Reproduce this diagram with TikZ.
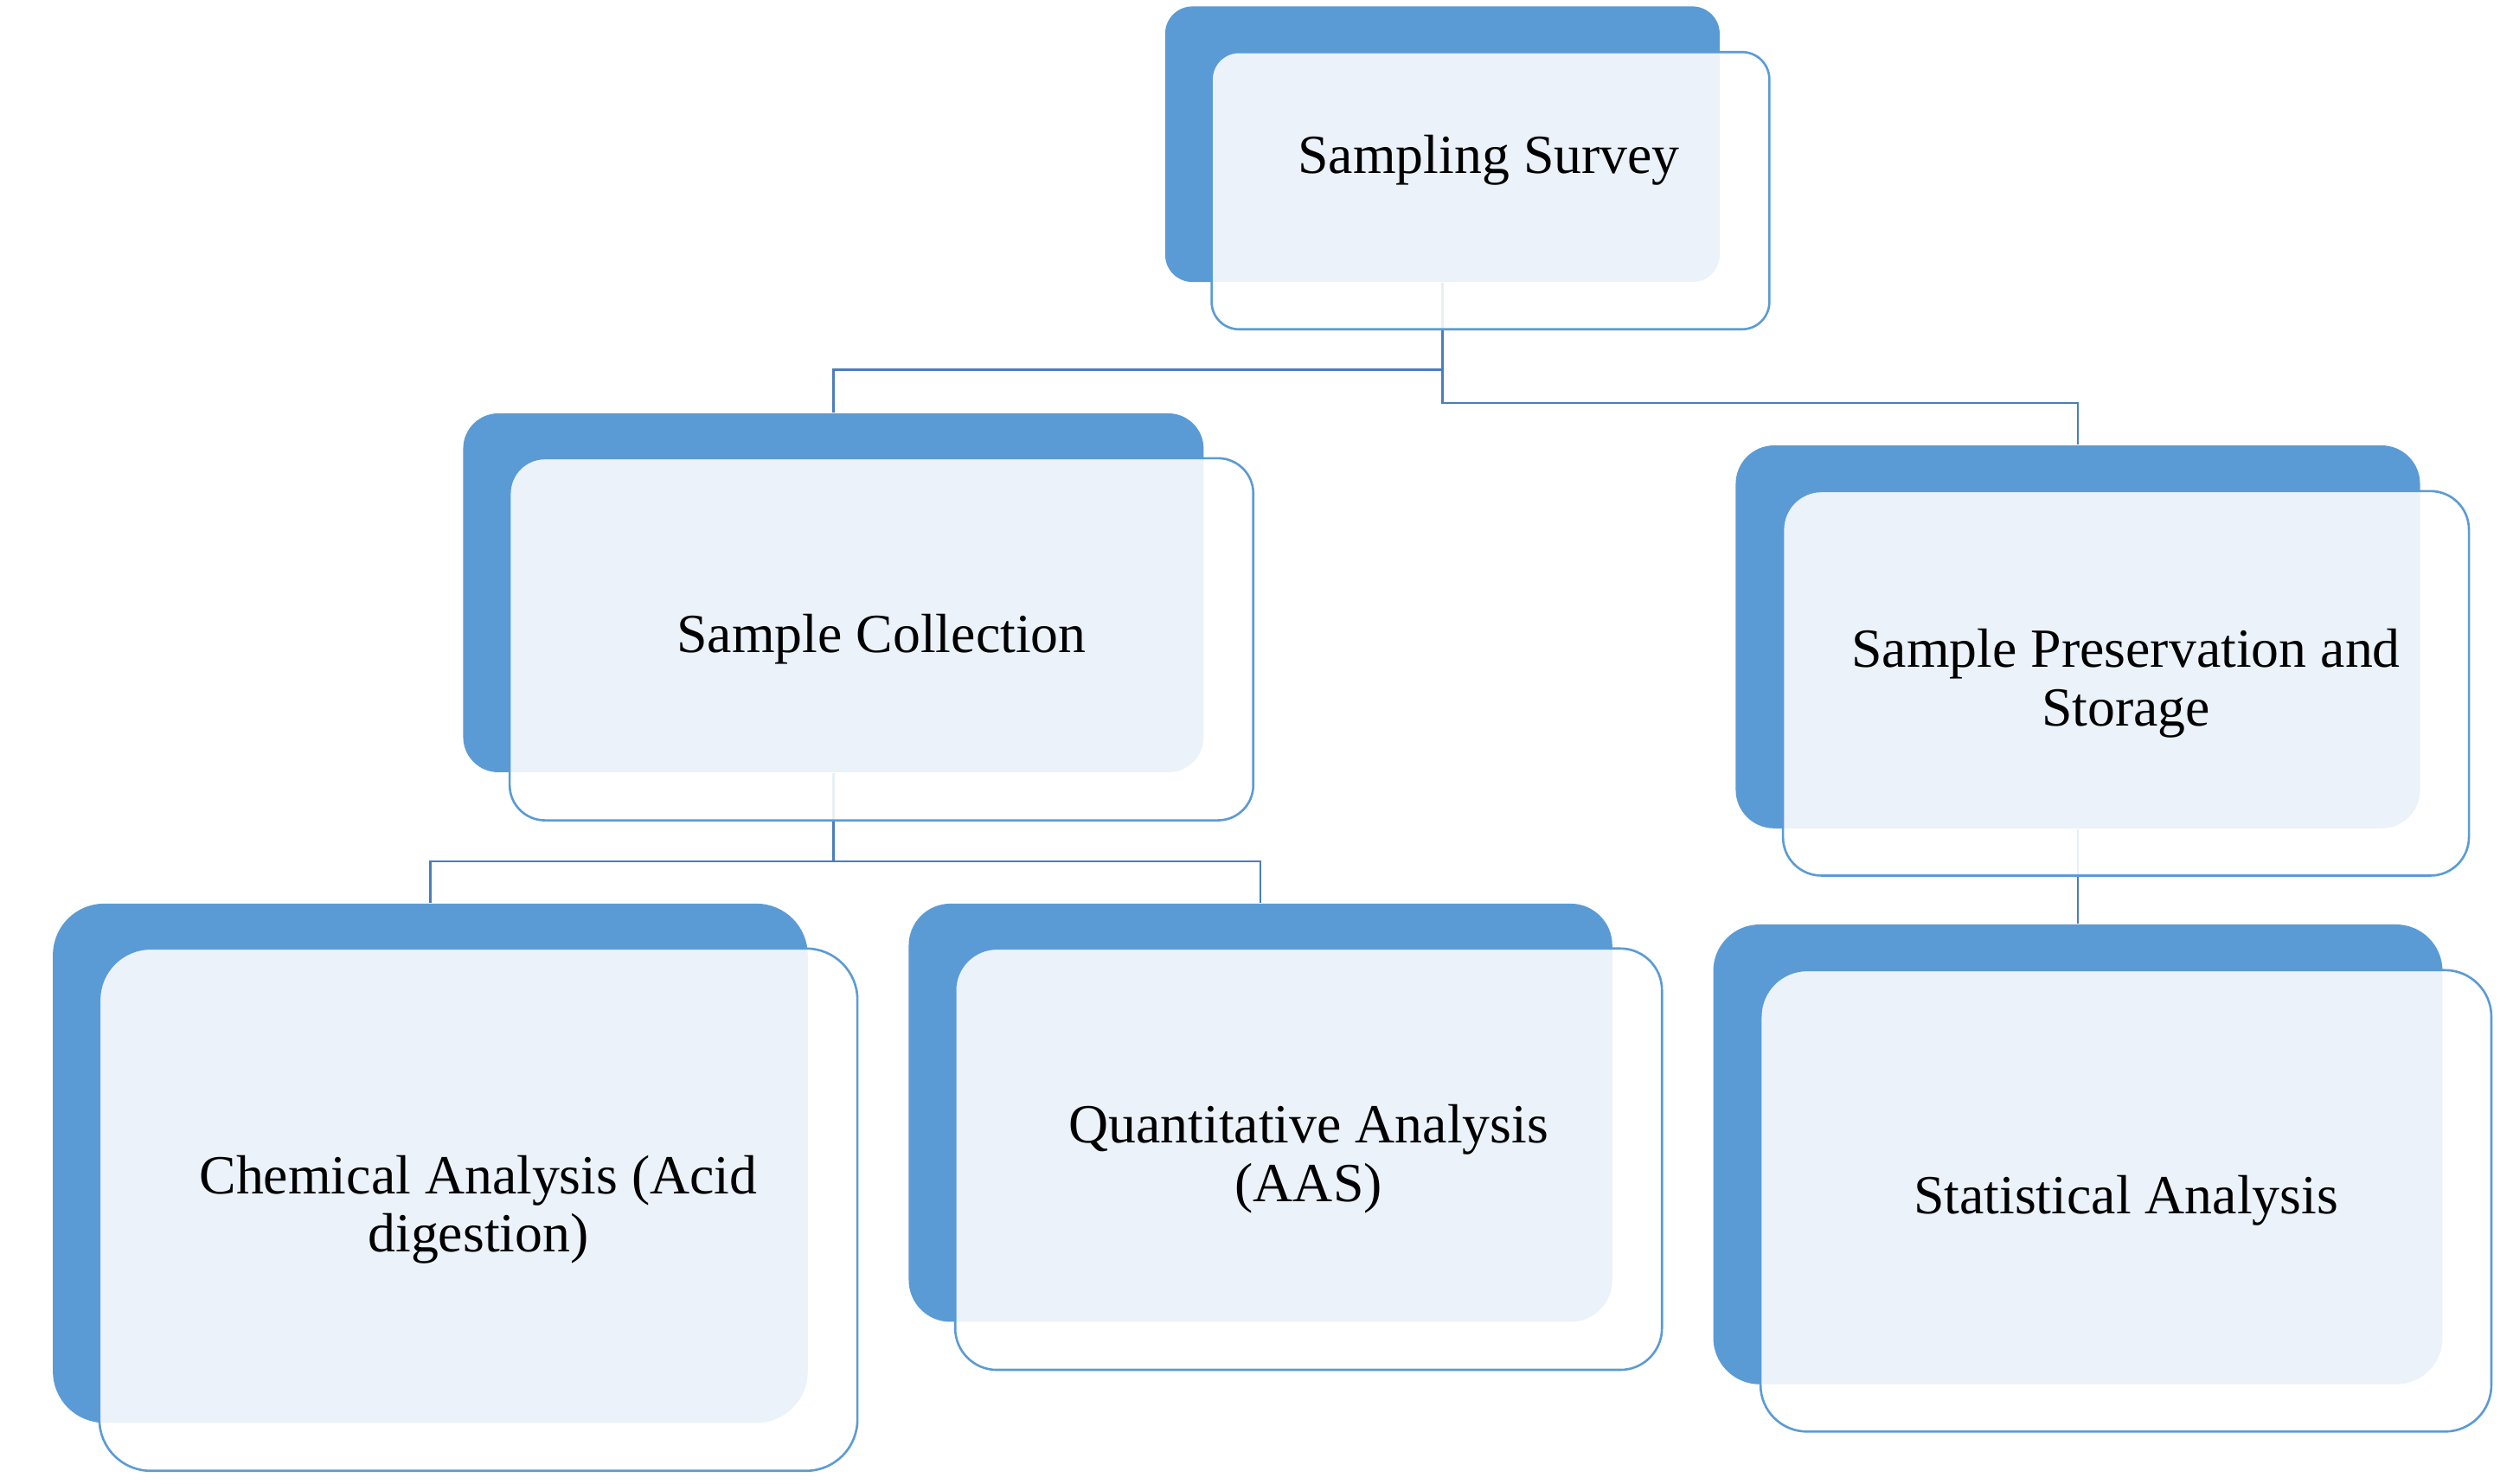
\documentclass[tikz,border=0pt]{standalone}
\usepackage{fontspec}
\setmainfont{Liberation Serif}
\usetikzlibrary{backgrounds}
\definecolor{cardBlue}{HTML}{5B9BD5}
\definecolor{linkBlue}{HTML}{4A7EBB}
\tikzset{
  backcard/.style n args={3}{
    fill=cardBlue, rounded corners=#3, inner sep=0pt,
    minimum width=#1, minimum height=#2
  },
  frontcard/.style n args={3}{
    draw=cardBlue, line width=0.4pt, fill=white, fill opacity=0.88, text opacity=1,
    rounded corners=#3, inner sep=0pt, minimum width=#1, minimum height=#2,
    align=center, font=\fontsize{9.8}{10.4}\selectfont
  },
  cardtext/.style={align=center, font=\fontsize{9.8}{10.4}\selectfont},
  link/.style={draw=linkBlue, line width=0.35pt}
}

\begin{document}
\begin{tikzpicture}[x=0.1mm, y=-0.1mm]
  \useasboundingbox (0,0) rectangle (1568,926);
  % back cards
  \node[backcard={34.6mm}{17.2mm}{1.7mm}] (ssb) at (900,90) {};
  \node[backcard={46.2mm}{22.4mm}{2.2mm}] (scb) at (520,370) {};
  \node[backcard={42.7mm}{23.9mm}{2.4mm}] (spb) at (1296.5,397.5) {};
  \node[backcard={47.1mm}{32.4mm}{3.2mm}] (cab) at (268.5,726) {};
  \node[backcard={43.9mm}{26.1mm}{2.6mm}] (qab) at (786.5,694.5) {};
  \node[backcard={45.5mm}{28.7mm}{2.9mm}] (sab) at (1296.5,720.5) {};
  % front cards
  \node[frontcard={34.8mm}{17.3mm}{1.7mm}, xshift=3mm, yshift=-2.9mm] (ss) at (ssb) {};
  \node[cardtext] (sst) at (929,100) {Sampling Survey};
  \node[frontcard={46.4mm}{22.6mm}{2.2mm}, xshift=3mm, yshift=-2.9mm] (sc) at (scb) {Sample Collection};
  \node[frontcard={42.8mm}{24mm}{2.4mm}, xshift=3mm, yshift=-2.9mm] (sp) at (spb) {Sample Preservation and\\Storage};
  \node[frontcard={47.3mm}{32.6mm}{3.2mm}, xshift=3mm, yshift=-2.9mm] (ca) at (cab) {Chemical Analysis (Acid\\digestion)};
  \node[frontcard={44.1mm}{26.3mm}{2.6mm}, xshift=3mm, yshift=-2.9mm] (qa) at (qab) {Quantitative Analysis\\(AAS)};
  \node[frontcard={45.6mm}{28.8mm}{2.9mm}, xshift=3mm, yshift=-2.9mm] (sa) at (sab) {Statistical Analysis};
  % connectors
  \begin{scope}[on background layer]
    \draw[link] (ssb.south) -- ++(0,54) -| (scb.north);
    \draw[link] (ssb.south) -- ++(0,75) -| (spb.north);
    \draw[link] (scb.south) -- ++(0,55) -| (cab.north);
    \draw[link] (scb.south) -- ++(0,55) -| (qab.north);
    \draw[link] (spb.south) -- (sab.north);
  \end{scope}
\end{tikzpicture}
\end{document}
